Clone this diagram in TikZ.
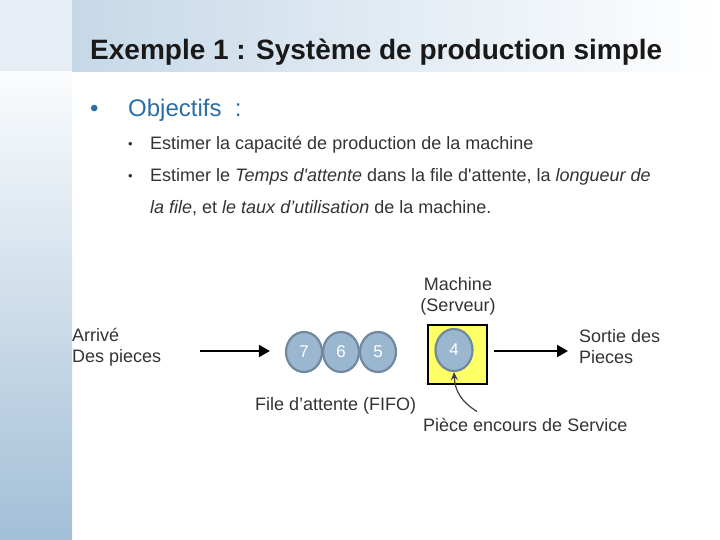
\documentclass[tikz,border=0pt]{standalone}
\usepackage{fontspec}
\setmainfont{Liberation Sans}
\usetikzlibrary{arrows.meta, positioning, shapes.geometric}

\definecolor{bandblue}{HTML}{C6D8E8}
\definecolor{cornerblue}{HTML}{E6EDF5}
\definecolor{barblue}{HTML}{A2BFD7}
\definecolor{headblue}{HTML}{2A6EA6}
\definecolor{textgray}{HTML}{333333}
\definecolor{piecefill}{HTML}{9BB6CF}
\definecolor{pieceedge}{HTML}{6F899F}
\definecolor{serveryellow}{HTML}{FFFF66}

\begin{document}
\begin{tikzpicture}[
  x=1pt, y=-1pt,
  >={Triangle[length=11pt, width=12pt]},
  flow/.style={->, line width=2pt, black},
  cue/.style={-{Stealth[length=8pt, width=7pt]}, line width=1.2pt, black!75},
  txt/.style={inner sep=0pt, text=textgray, font=\fontsize{18}{21}\selectfont},
  lbl/.style={txt, align=left},
  piece/.style={ellipse, draw=pieceedge, line width=2.2pt, fill=piecefill,
                minimum width=36pt, minimum height=40pt, inner sep=0pt,
                text=white, font=\fontsize{17}{19}\selectfont},
  serverbox/.style={draw=black, line width=2pt, fill=serveryellow,
                    minimum width=59pt, minimum height=59pt, inner sep=0pt}
]
\useasboundingbox (0,0) rectangle (720,540);

% background bands
\fill[cornerblue] (0,0) rectangle (72,72);
\shade[top color=white!95!barblue, bottom color=barblue] (0,72) rectangle (72,540);
\shade[left color=bandblue, right color=white] (72,0) rectangle (720,72);

% title and bullets
\node[anchor=base west, inner sep=0pt, font=\fontsize{28}{32}\selectfont\bfseries, text=black!90]
  (title) at (90,60) {Exemple 1 : Système de production simple};
\node[anchor=base west, inner sep=0pt, text=headblue, font=\fontsize{24}{28}\selectfont]
  (dot) at (90,117) {•};
\node[anchor=base west, inner sep=0pt, text=headblue, font=\fontsize{24}{28}\selectfont]
  (goal) at (128,117) {Objectifs~~:};
\node[txt, anchor=base west, font=\fontsize{13}{15}\selectfont] (dotA) at (128,149) {•};
\node[txt, anchor=base west] (goalA) at (150,150) {Estimer la capacité de production de la machine};
\node[txt, anchor=base west, font=\fontsize{13}{15}\selectfont] (dotB) at (128,181) {•};
\node[txt, anchor=base west] (goalB) at (150,182)
  {Estimer le \textit{Temps d\textquotesingle attente} dans la file d\textquotesingle attente, la \textit{longueur de}};
\node[txt, anchor=base west] (goalC) at (150,214)
  {\textit{la file}, et \textit{le taux d’utilisation} de la machine.};

% queue and server
\node[lbl, anchor=west] (arrive) at (72,347) {Arrivé\\Des pieces};
\node[piece] (p6) at (341,352) {6};
\node[piece] (p7) at (304,352) {7};
\node[piece] (p5) at (378,352) {5};
\node[serverbox] (machine) at (457.5,354) {};
\node[piece, minimum width=37pt, minimum height=42pt] (p4) at (454,350) {4};
\node[txt, align=center] (machlbl) at (458,296) {Machine\\(Serveur)};
\node[lbl, anchor=west] (sortie) at (579,347) {Sortie des\\Pieces};
\node[txt, anchor=base west] (fifo) at (255,410) {File d’attente (FIFO)};
\node[txt, anchor=base west] (service) at (423,431) {Pièce encours de Service};

\coordinate (inA) at (200,351);
\coordinate (outA) at (494,351);
\draw[flow, shorten >=15pt] (inA) -- (inA -| p7.west);
\draw[flow, shorten >=11pt] (outA) -- (outA -| sortie.west);
\draw[cue] ([xshift=54pt, yshift=6pt]service.north west)
  .. controls (462,402) and (455,392) .. (p4.south);

\end{tikzpicture}
\end{document}
